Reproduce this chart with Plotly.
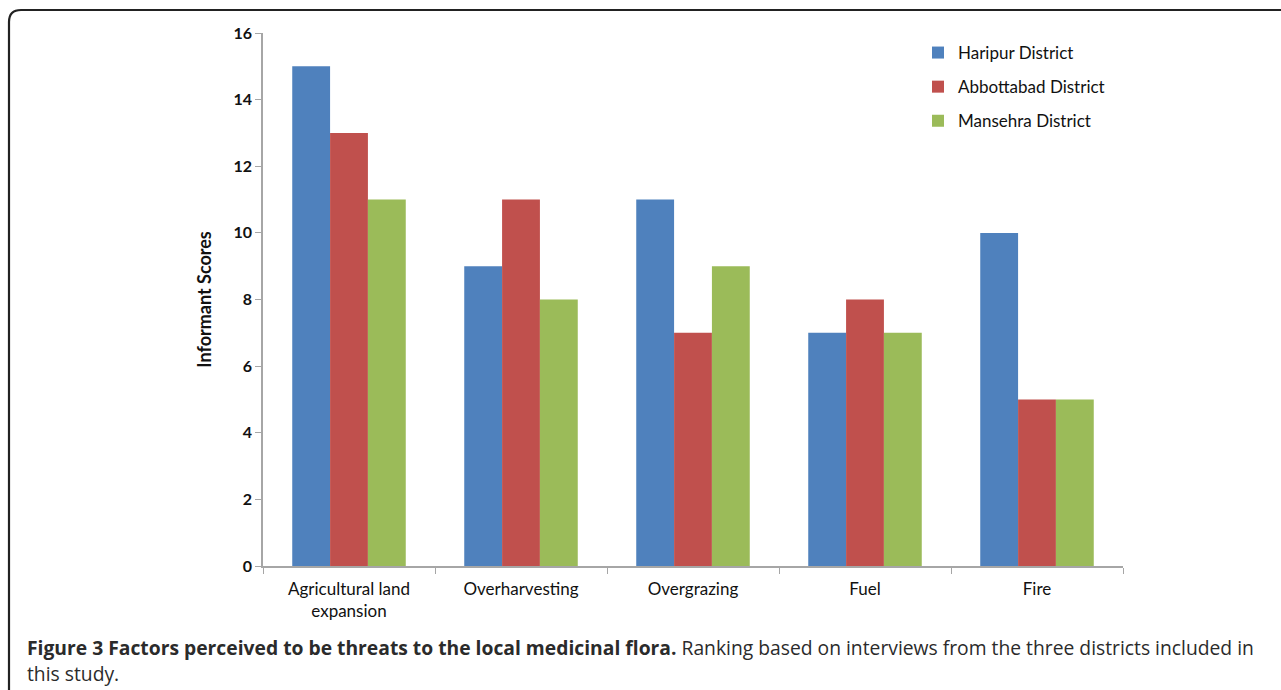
import plotly.graph_objects as go

# Threat categories and informant scores per district
categories = ["Agricultural land<br>expansion", "Overharvesting", "Overgrazing", "Fuel", "Fire"]
haripur = [15, 9, 11, 7, 10]
abbottabad = [13, 11, 7, 8, 5]
mansehra = [11, 8, 9, 7, 5]
series_names = ["Haripur District", "Abbottabad District", "Mansehra District"]
y_ticks = [0, 2, 4, 6, 8, 10, 12, 14, 16]

W, H = 1281, 690
colors = ["#4F81BD", "#C0504D", "#9BBB59"]


def px_x(x):
    return x / W


def px_y(y):
    return 1 - y / H


fig = go.Figure()
for name, vals, col in zip(series_names, [haripur, abbottabad, mansehra], colors):
    fig.add_trace(go.Bar(
        x=categories, y=vals, name=name, marker=dict(color=col, line=dict(width=0)),
        legendgroup=name,
    ))

base_family = "Lato, 'Open Sans', sans-serif"

fig.update_layout(
    width=W, height=H,
    margin=dict(l=0, r=0, t=0, b=0),
    paper_bgcolor="white", plot_bgcolor="white",
    barmode="group", bargap=0.34, bargroupgap=0,
    xaxis=dict(
        domain=[px_x(263), px_x(1123)],
        showline=True, linecolor="#A6A6A6", linewidth=1.5,
        ticks="outside", tickson="boundaries", ticklen=6, tickcolor="#A6A6A6",
        tickfont=dict(family=base_family, size=17, color="#111111"),
        ticklabelstandoff=7,
        showgrid=False, automargin=False, fixedrange=True,
    ),
    yaxis=dict(
        domain=[px_y(566), px_y(33)],
        range=[0, 16], tickvals=y_ticks,
        showline=True, linecolor="#A6A6A6", linewidth=1.5,
        ticks="outside", ticklen=6, tickcolor="#A6A6A6",
        tickfont=dict(family=base_family, size=16, color="#111111", weight="bold"),
        showgrid=False, zeroline=False, automargin=False,
        title=dict(text="<b>Informant Scores</b>", standoff=17,
                   font=dict(family=base_family, size=18, color="#111111")),
    ),
    legend=dict(
        x=px_x(918), y=px_y(35), xanchor="left", yanchor="top",
        font=dict(family=base_family, size=17, color="#111111"),
        traceorder="grouped", tracegroupgap=9, bgcolor="rgba(0,0,0,0)",
    ),
    showlegend=True,
)

# Rounded frame on the top and left edges of the figure box
x0, y0, r = 9, 10, 12
frame_path = (
    f"M {px_x(x0)},{px_y(H + 5)} L {px_x(x0)},{px_y(y0 + r)} "
    f"Q {px_x(x0)},{px_y(y0)} {px_x(x0 + r)},{px_y(y0)} L {px_x(W + 5)},{px_y(y0)}"
)
fig.add_shape(type="path", path=frame_path, xref="paper", yref="paper",
              line=dict(color="#222222", width=2.2))

caption_font = dict(family="'Open Sans', sans-serif", size=19.3, color="#2b2b2b")
fig.add_annotation(
    xref="paper", yref="paper", x=px_x(25), y=px_y(647), xanchor="left", yanchor="middle",
    text="<b>Figure 3 Factors perceived to be threats to the local medicinal flora.</b> "
         "Ranking based on interviews from the three districts included in",
    showarrow=False, font=caption_font, align="left",
)
fig.add_annotation(
    xref="paper", yref="paper", x=px_x(25), y=px_y(673), xanchor="left", yanchor="middle",
    text="this study.", showarrow=False, font=caption_font, align="left",
)

fig.write_html("out.html")
